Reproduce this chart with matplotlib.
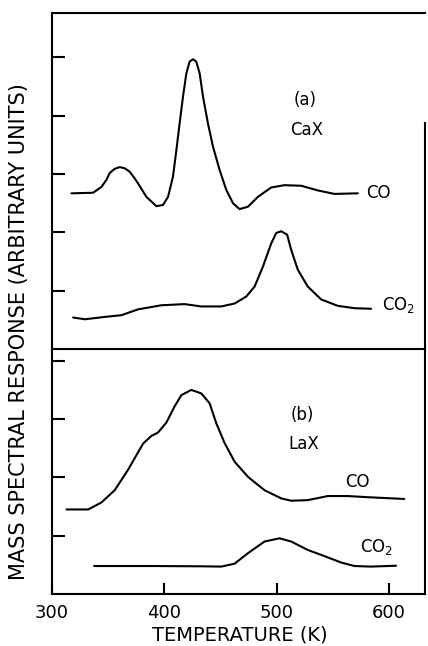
import matplotlib
matplotlib.use("Agg")
import matplotlib.pyplot as plt

# ---- data (temperature K, response in arbitrary units) ----
# Panel (a) CaX
cax_co_T = [317.3, 336.6, 344.0, 348.4, 351.4, 355.8, 360.3, 364.7, 369.2, 373.1,
            376.6, 384.0, 392.9, 398.8, 403.3, 407.7, 410.7, 413.6, 416.6, 419.6,
            422.5, 425.5, 428.4, 431.4, 434.4, 438.8, 443.3, 449.2, 455.1, 461.1,
            466.9, 474.4, 483.3, 495.1, 506.9, 521.8, 536.6, 551.4, 572.2]
cax_co_v = [2.67, 2.68, 2.78, 2.90, 3.02, 3.09, 3.12, 3.10, 3.04, 2.94,
            2.84, 2.61, 2.45, 2.47, 2.61, 2.96, 3.41, 3.87, 4.33, 4.73,
            4.93, 4.97, 4.93, 4.73, 4.33, 3.87, 3.47, 3.07, 2.73, 2.50,
            2.40, 2.44, 2.61, 2.77, 2.81, 2.80, 2.72, 2.66, 2.67]

cax_co2_T = [318.8, 329.2, 346.9, 361.8, 376.6, 397.3, 418.0, 432.9, 450.7, 462.5,
             472.9, 480.3, 487.7, 495.1, 499.6, 504.0, 509.3, 512.9, 518.8, 527.7,
             539.6, 554.4, 569.2, 584.0]
cax_co2_v = [0.54, 0.51, 0.55, 0.58, 0.68, 0.75, 0.77, 0.73, 0.73, 0.78,
             0.90, 1.07, 1.41, 1.81, 1.99, 2.02, 1.96, 1.70, 1.36, 1.07,
             0.85, 0.74, 0.70, 0.69]

# Panel (b) LaX
lax_co_T = [312.9, 332.2, 344.0, 355.8, 367.7, 375.1, 381.1, 388.4, 394.4, 401.8,
            409.2, 415.1, 424.0, 432.9, 440.3, 446.2, 453.6, 462.5, 474.4, 489.2,
            504.0, 512.9, 527.7, 545.5, 563.3, 581.1, 613.6]
lax_co_v = [1.45, 1.45, 1.57, 1.78, 2.13, 2.38, 2.58, 2.71, 2.77, 2.94,
            3.22, 3.41, 3.50, 3.44, 3.27, 2.93, 2.59, 2.27, 2.01, 1.78,
            1.64, 1.60, 1.61, 1.68, 1.68, 1.66, 1.63]

lax_co2_T = [337.5, 388.4, 432.9, 450.7, 462.5, 474.4, 489.2, 502.5, 512.9, 527.7,
             542.5, 557.3, 569.2, 584.0, 606.2]
lax_co2_v = [0.48, 0.48, 0.475, 0.47, 0.52, 0.70, 0.90, 0.955, 0.90, 0.755,
             0.65, 0.54, 0.48, 0.47, 0.485]

x_ticks = [300, 400, 500, 600]
x_tick_labels = ["300", "400", "500", "600"]

# ---- figure ----
W, H = 428, 646
fig = plt.figure(figsize=(W / 100, H / 100), dpi=100)
left, right = 52 / W, 425 / W
div_y = 1 - 349 / H
top_y = 1 - 13 / H
bot_y = 1 - 594 / H

ax_b = fig.add_axes([left, bot_y, right - left, div_y - bot_y])
ax_a = fig.add_axes([left, div_y, right - left, top_y - div_y])
ax_a.patch.set_visible(False)
ax_b.patch.set_visible(False)

lw = 1.5
for ax in (ax_a, ax_b):
    ax.set_xlim(300, 632)
    for s in ax.spines.values():
        s.set_linewidth(1.5)
    ax.tick_params(axis="y", direction="in", length=9, width=1.5, labelleft=False)

ax_a.set_ylim(0, 5.763)
ax_b.set_ylim(0, 4.202)
ax_a.set_yticks([1, 2, 3, 4, 5])
ax_b.set_yticks([1, 2, 3, 4])
ax_a.set_xticks([])
ax_b.spines["top"].set_visible(False)
ax_a.spines["right"].set_bounds(0, 3.88)

ax_b.set_xticks(x_ticks)
ax_b.set_xticklabels(x_tick_labels)
ax_b.tick_params(axis="x", direction="in", length=8, width=1.5, pad=7, labelsize=13)

style = dict(color="black", lw=lw, solid_joinstyle="round", solid_capstyle="round")
ax_a.plot(cax_co_T, cax_co_v, **style)
ax_a.plot(cax_co2_T, cax_co2_v, **style)
ax_b.plot(lax_co_T, lax_co_v, **style)
ax_b.plot(lax_co2_T, lax_co2_v, **style)

fs = 12
ax_a.text(525, 4.27, "(a)", ha="center", va="center", fontsize=fs)
ax_a.text(527, 3.76, "CaX", ha="center", va="center", fontsize=fs)
ax_a.text(580, 2.68, "CO", ha="left", va="center", fontsize=fs)
ax_a.text(594, 0.76, "CO$_2$", ha="left", va="center", fontsize=fs)

ax_b.text(523, 3.07, "(b)", ha="center", va="center", fontsize=fs)
ax_b.text(524, 2.57, "LaX", ha="center", va="center", fontsize=fs)
ax_b.text(572, 1.92, "CO", ha="center", va="center", fontsize=fs)
ax_b.text(574, 0.80, "CO$_2$", ha="left", va="center", fontsize=fs)

fig.text(240 / W, 1 - 635 / H, "TEMPERATURE (K)", ha="center", va="center", fontsize=14)
fig.text(19 / W, 1 - 332 / H, "MASS SPECTRAL RESPONSE (ARBITRARY UNITS)",
         ha="center", va="center", rotation=90, fontsize=15)

fig.savefig("out.png", dpi=100)
